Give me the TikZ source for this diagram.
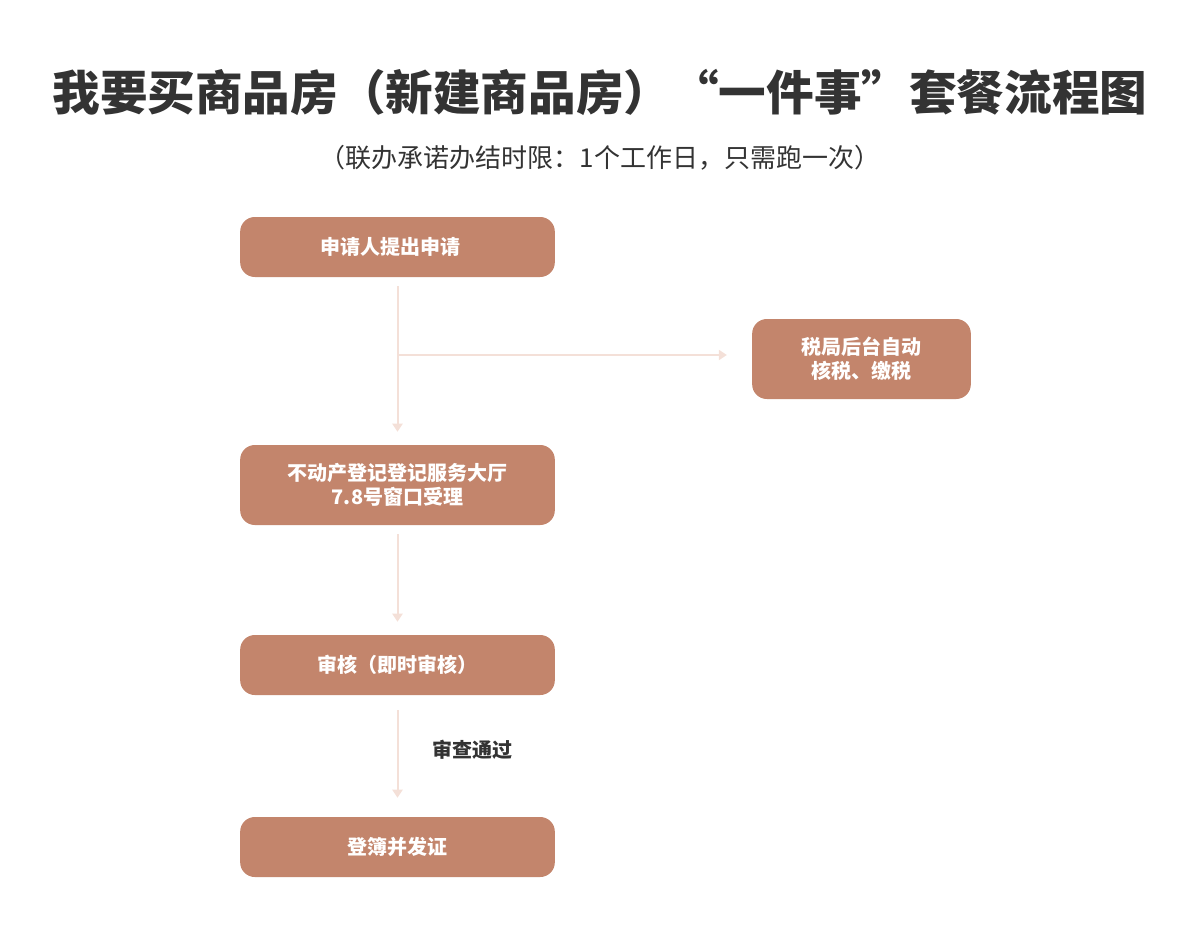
\documentclass[tikz,border=0pt]{standalone}
\usepackage{fontspec}
\setmainfont{Noto Sans CJK SC}
\usetikzlibrary{arrows.meta}
\definecolor{boxc}{HTML}{C3856C}
\definecolor{arrc}{HTML}{F4E0D8}
\definecolor{txtc}{HTML}{333333}
\begin{document}
\begin{tikzpicture}[x=0.75pt,y=-0.75pt,
  stepbox/.style={rectangle,rounded corners=11pt,fill=boxc,draw=none,
    text=white,font=\fontsize{15}{18}\selectfont\bfseries,align=center,inner sep=0pt},
  conn/.style={draw=arrc,line width=1.5pt,-{Triangle[width=7.5pt,length=6pt]}}]
\useasboundingbox (0,0) rectangle (1200,936);
\node[text=txtc,font=\fontsize{35.7}{40}\selectfont\bfseries] (title) at (600,92) {我要买商品房（新建商品房）“一件事”套餐流程图};
\node[text=txtc,font=\fontsize{19.5}{23}\selectfont] (sub) at (600,158) {（联办承诺办结时限：1个工作日，只需跑一次）};
\node[stepbox,minimum width=236pt,minimum height=45pt] (b1) at (397.5,247) {申请人提出申请\hspace*{10pt}};
\node[stepbox,minimum width=164pt,minimum height=60pt] (b2) at (861.5,359) {税局后台自动\\核税、缴税};
\node[stepbox,minimum width=236pt,minimum height=60pt] (b3) at (397.5,485) {不动产登记登记服务大厅\\7.8号窗口受理};
\node[stepbox,minimum width=236pt,minimum height=45pt] (b4) at (397.5,665) {审核（即时审核）};
\node[stepbox,minimum width=236pt,minimum height=45pt] (b5) at (397.5,847) {登簿并发证};
\coordinate (br) at (398,355);
\draw[conn,shorten <=6.75pt,shorten >=9.75pt] (b1) -- (b3);
\draw[conn,shorten >=18.75pt] (br) -- (br -| b2.west);
\draw[conn,shorten <=6.75pt,shorten >=9.75pt] (b3) -- (b4);
\draw[conn,shorten <=11.25pt,shorten >=14.25pt] (b4) -- (b5);
\node[text=txtc,font=\fontsize{15}{18}\selectfont\bfseries] (lbl) at (472,750) {审查通过};
\end{tikzpicture}
\end{document}
